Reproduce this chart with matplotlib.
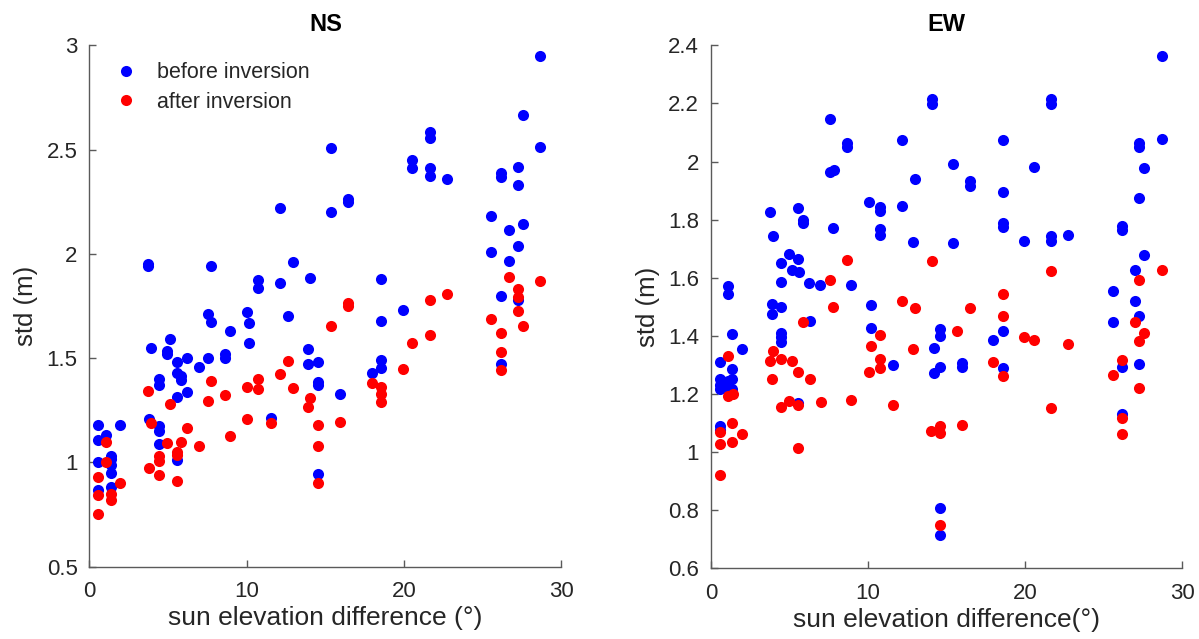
import matplotlib
matplotlib.use("Agg")
import matplotlib.pyplot as plt
from matplotlib.ticker import FuncFormatter

plt.rcParams['font.family'] = ['Liberation Sans', 'DejaVu Sans']

# ---------------- NS panel data ----------------
ns_before_x = [0.55, 0.55, 0.55, 0.55, 1.06, 1.36, 1.36, 1.36, 1.36, 1.36, 1.95,
               3.75, 3.75, 3.81, 3.94, 4.45, 4.45, 4.45, 4.45, 4.45, 4.96, 4.96,
               5.13, 5.55, 5.55, 5.55, 5.55, 5.83, 5.83, 6.23, 6.23, 6.95,
               7.55, 7.55, 7.76, 7.76, 8.63, 8.63, 8.97, 10.05, 10.15, 10.15,
               10.74, 10.74, 11.53, 12.14, 12.14, 12.65, 12.93, 13.92, 13.92,
               14.03, 14.54, 14.54, 14.54, 14.54, 15.35, 15.35, 15.94, 16.43,
               16.43, 17.95, 18.54, 18.54, 18.54, 18.54, 19.94, 20.5, 20.5,
               21.64, 21.64, 21.64, 21.64, 22.74, 25.54, 25.54, 26.15, 26.15,
               26.15, 26.15, 26.64, 26.64, 27.23, 27.23, 27.23, 27.23, 27.55,
               27.55, 28.65, 28.65]
ns_before_y = [1.18, 1.11, 1.00, 0.87, 1.13, 1.03, 1.015, 0.99, 0.95, 0.88, 1.18,
               1.95, 1.94, 1.21, 1.55, 1.40, 1.37, 1.175, 1.15, 1.09, 1.535, 1.52,
               1.59, 1.48, 1.43, 1.315, 1.01, 1.415, 1.395, 1.50, 1.34, 1.46,
               1.71, 1.50, 1.94, 1.675, 1.52, 1.50, 1.63, 1.72, 1.67, 1.575,
               1.875, 1.835, 1.215, 2.22, 1.86, 1.70, 1.96, 1.545, 1.47,
               1.885, 1.48, 1.385, 1.37, 0.945, 2.51, 2.20, 1.33, 2.265,
               2.25, 1.43, 1.88, 1.68, 1.49, 1.455, 1.73, 2.45, 2.41,
               2.585, 2.555, 2.41, 2.375, 2.36, 2.18, 2.01, 2.39, 2.37,
               1.80, 1.47, 2.115, 1.965, 2.415, 2.33, 2.04, 1.78, 2.665,
               2.145, 2.95, 2.515]

ns_after_x = [0.55, 0.55, 0.55, 1.06, 1.06, 1.36, 1.36, 1.95, 3.75, 3.81, 3.94,
              4.45, 4.45, 4.45, 4.96, 5.13, 5.55, 5.55, 5.55, 5.83, 6.23, 6.95,
              7.55, 7.76, 8.63, 8.94, 10.05, 10.05, 10.74, 10.74, 11.53, 12.14,
              12.65, 12.93, 13.92, 14.03, 14.54, 14.54, 14.54, 15.35, 15.94,
              16.43, 16.43, 17.95, 18.54, 18.54, 18.54, 19.94, 20.5, 21.64,
              21.64, 22.74, 25.54, 26.15, 26.15, 26.15, 26.64, 27.23, 27.23,
              27.23, 27.55, 28.65]
ns_after_y = [0.93, 0.845, 0.755, 1.10, 1.00, 0.85, 0.82, 0.90, 1.345, 0.975, 1.19,
              1.03, 1.005, 0.94, 1.095, 1.28, 1.05, 1.035, 0.91, 1.10, 1.165, 1.08,
              1.295, 1.39, 1.325, 1.125, 1.36, 1.21, 1.40, 1.35, 1.19, 1.425,
              1.485, 1.355, 1.265, 1.31, 1.18, 1.08, 0.90, 1.655, 1.195,
              1.765, 1.75, 1.38, 1.36, 1.33, 1.29, 1.45, 1.575, 1.78,
              1.61, 1.81, 1.69, 1.62, 1.53, 1.445, 1.89, 1.83, 1.795,
              1.725, 1.655, 1.87]

# ---------------- EW panel data ----------------
ew_before_x = [0.55, 0.55, 0.55, 0.55, 0.55, 0.55, 1.06, 1.06, 1.06, 1.06,
               1.36, 1.36, 1.36, 1.36, 1.95, 3.76, 3.86, 3.86, 3.97,
               4.46, 4.46, 4.46, 4.46, 4.46, 4.46, 4.97, 5.14, 5.56, 5.56, 5.56,
               5.62, 5.84, 5.84, 6.26, 6.30, 6.94, 7.57, 7.57, 7.75, 7.83,
               8.64, 8.64, 8.9, 10.08, 10.17, 10.17, 10.76, 10.76, 10.76, 10.76,
               11.56, 12.16, 12.16, 12.83, 12.97, 14.07, 14.07, 14.17, 14.17,
               14.58, 14.58, 14.58, 14.58, 14.58, 15.38, 15.38, 15.99, 15.99,
               16.49, 16.49, 17.97, 18.56, 18.56, 18.56, 18.56, 18.56, 18.56,
               19.94, 20.56, 21.64, 21.64, 21.64, 21.64, 22.74, 25.57, 25.57,
               26.18, 26.18, 26.18, 26.18, 26.97, 26.97, 27.26, 27.26, 27.26,
               27.26, 27.26, 27.58, 27.58, 28.69, 28.69]
ew_before_y = [1.31, 1.25, 1.23, 1.215, 1.09, 1.075, 1.57, 1.545, 1.245, 1.225,
               1.405, 1.285, 1.25, 1.215, 1.355, 1.825, 1.51, 1.475, 1.745,
               1.65, 1.585, 1.50, 1.41, 1.395, 1.38, 1.68, 1.625, 1.84, 1.665, 1.168,
               1.62, 1.80, 1.79, 1.58, 1.45, 1.575, 2.145, 1.963, 1.77, 1.97,
               2.065, 2.05, 1.575, 1.86, 1.505, 1.425, 1.843, 1.828, 1.766, 1.748,
               1.30, 2.073, 1.846, 1.724, 1.94, 2.216, 2.199, 1.358, 1.272,
               1.424, 1.40, 1.293, 0.807, 0.713, 1.992, 1.718, 1.306, 1.291,
               1.934, 1.917, 1.387, 2.075, 1.895, 1.789, 1.774, 1.418, 1.288,
               1.728, 1.982, 2.216, 2.198, 1.745, 1.728, 1.746, 1.553, 1.446,
               1.779, 1.764, 1.294, 1.13, 1.627, 1.52, 2.065, 2.049, 1.873,
               1.469, 1.302, 1.977, 1.679, 2.362, 2.077]

ew_after_x = [0.55, 0.55, 0.55, 1.10, 1.10, 1.38, 1.32, 1.32, 1.95, 3.76, 3.86,
              3.97, 4.46, 4.46, 4.97, 5.17, 5.56, 5.56, 5.56, 5.88, 6.30, 7.0,
              7.57, 7.75, 8.64, 8.9, 10.08, 10.17, 10.76, 10.76, 10.76, 11.56,
              12.16, 12.83, 12.97, 13.99, 14.07, 14.58, 14.58, 14.58, 15.63,
              15.99, 16.49, 17.97, 18.56, 18.56, 18.56, 19.94, 20.56, 21.64,
              21.64, 22.74, 25.57, 26.18, 26.18, 26.18, 26.97, 27.26, 27.26,
              27.26, 27.58, 28.69]
ew_after_y = [1.068, 1.028, 0.92, 1.332, 1.194, 1.201, 1.10, 1.035, 1.063, 1.312, 1.251,
              1.349, 1.321, 1.154, 1.177, 1.312, 1.274, 1.161, 1.013, 1.449, 1.251, 1.171,
              1.593, 1.50, 1.662, 1.18, 1.276, 1.365, 1.404, 1.321, 1.289, 1.161,
              1.521, 1.353, 1.495, 1.072, 1.658, 1.090, 1.066, 0.748, 1.416,
              1.091, 1.496, 1.311, 1.545, 1.468, 1.261, 1.397, 1.386, 1.622,
              1.151, 1.373, 1.264, 1.318, 1.118, 1.062, 1.448, 1.591, 1.383,
              1.219, 1.409, 1.626]

x_ticks = [0, 10, 20, 30]
ns_yticks = [0.5, 1, 1.5, 2, 2.5, 3]
ew_yticks = [0.6, 0.8, 1.0, 1.2, 1.4, 1.6, 1.8, 2.0, 2.2, 2.4]

fig = plt.figure(figsize=(11.99, 6.39), dpi=100)
ax1 = fig.add_axes([0.0745, 0.1131, 0.3937, 0.8159])
ax2 = fig.add_axes([0.593, 0.111, 0.3931, 0.818])

spine_col = '#5a5a5a'
text_col = '#262626'
fmt = FuncFormatter(lambda v, p: ('%g' % round(v, 3)))
MS = 8.0


def style(ax, yticks, ylim, title, xlabel):
    ax.set_xlim(0, 30)
    ax.set_ylim(*ylim)
    ax.set_xticks(x_ticks)
    ax.set_yticks(yticks)
    ax.xaxis.set_major_formatter(fmt)
    ax.yaxis.set_major_formatter(fmt)
    for s in ['top', 'right']:
        ax.spines[s].set_visible(False)
    for s in ['left', 'bottom']:
        ax.spines[s].set_color(spine_col)
        ax.spines[s].set_linewidth(1.0)
    ax.tick_params(direction='in', length=5, width=1.0, colors=spine_col,
                   labelcolor=text_col, labelsize=16)
    ax.tick_params(axis='y', pad=8.5)
    ax.tick_params(axis='x', pad=10.5)
    ax.set_title(title, fontsize=17, fontweight='bold', color='black', pad=10)
    ax.set_xlabel(xlabel, fontsize=19, color=text_col, labelpad=3)
    ax.set_ylabel('std (m)', fontsize=18.5, color=text_col, labelpad=6)


ax1.plot(ns_before_x, ns_before_y, 'o', color='#0000ff', ms=MS, mec='none',
         label='before inversion', clip_on=False)
ax1.plot(ns_after_x, ns_after_y, 'o', color='#ff0000', ms=MS, mec='none',
         label='after inversion', clip_on=False)
style(ax1, ns_yticks, (0.5, 3), 'NS', 'sun elevation difference (°)')
leg = ax1.legend(loc='upper left', frameon=False, fontsize=15.5,
                 handlelength=1.0, handletextpad=0.93, borderpad=0.0,
                 borderaxespad=0.0, bbox_to_anchor=(0.0551, 0.968),
                 labelspacing=0.4)
for t in leg.get_texts():
    t.set_color(text_col)

ax2.plot(ew_before_x, ew_before_y, 'o', color='#0000ff', ms=MS, mec='none', clip_on=False)
ax2.plot(ew_after_x, ew_after_y, 'o', color='#ff0000', ms=MS, mec='none', clip_on=False)
style(ax2, ew_yticks, (0.6, 2.4), 'EW', 'sun elevation difference(°)')

fig.savefig('out.png', dpi=100)
